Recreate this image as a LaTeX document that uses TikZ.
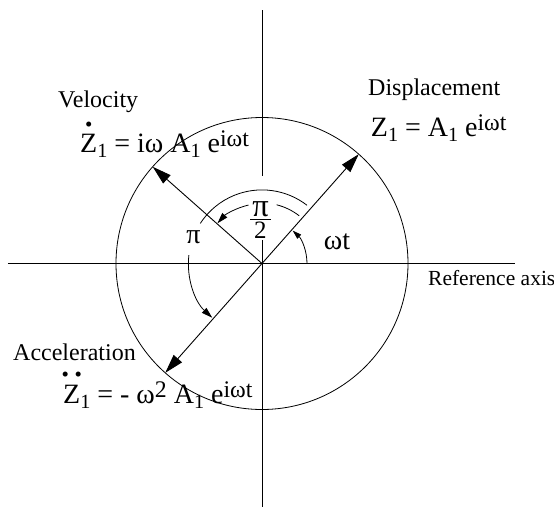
\documentclass[tikz,border=0pt]{standalone}
\usepackage{graphicx}
\usepackage{fontspec}
\setmainfont{Liberation Serif}
\usetikzlibrary{arrows.meta}
\newcommand\lowsub[1]{\raisebox{-0.2em}{\scalebox{0.72}{#1}}}
\newcommand\highsup[1]{\raisebox{0.2em}{\scalebox{0.85}{#1}}}
\newcommand\dotmark{\scalebox{0.75}{\textbullet}}
\newcommand\Zd{\ooalign{Z\cr\hidewidth\raisebox{0.74em}{\dotmark}\hidewidth\cr}}
\newcommand\Zdd{\ooalign{Z\cr\hidewidth\raisebox{0.76em}{\dotmark\kern0.2em\dotmark}\hidewidth\cr}}
\newcommand\pihalf{\vbox{\baselineskip=0pt\lineskip=1.5pt\lineskiplimit=0pt\halign{\hfil##\hfil\cr \scalebox{1.3}{π}\cr\rule{0.8em}{1.3pt}\cr 2\cr}}}
\tikzset{
  axisline/.style={line width=0.8pt},
  vec/.style={line width=0.9pt,-{Triangle[length=19pt,width=11pt]}},
  angarc/.style={line width=0.8pt},
  angarrow/.style={line width=0.8pt,-{Triangle[length=11pt,width=6.5pt]}},
  lbl/.style={inner sep=0pt,anchor=base west,font=\fontsize{24}{28}\selectfont},
  formula/.style={inner sep=0pt,anchor=base west,font=\fontsize{28}{32}\selectfont},
  greek/.style={inner sep=0pt,font=\fontsize{28}{32}\selectfont},
}
\begin{document}
\begin{tikzpicture}[x=1pt,y=1pt]
\useasboundingbox (-262,-248.5) rectangle (292,263.5);
\coordinate (O) at (0,0);
% axes
\coordinate (HL) at (-254,0);
\coordinate (HR) at (253,0);
\coordinate (VT) at (0,253.5);
\coordinate (VTg) at (0,88);
\coordinate (VBg) at (0,23.5);
\coordinate (VB) at (0,-243.5);
\draw[axisline] (HL) -- (HR);
\draw[axisline] (VT) -- (VTg);
\draw[axisline] (VBg) -- (VB);
% circle
\draw[axisline] (O) circle[radius=146pt];
% vectors
\coordinate (D) at (48.5:146pt);
\coordinate (V) at (138.5:146pt);
\coordinate (A) at (228.5:146pt);
\draw[vec] (O) -- (D);
\draw[vec] (O) -- (V);
\draw[vec] (O) -- (A);
% omega t arc
\draw[angarc,-{Triangle[length=9pt,width=5.5pt]}] (0:45pt) arc[start angle=0,end angle=47,radius=45pt];
% pi/2 arc
\draw[angarc] (52:60.5pt) arc[start angle=52,end angle=76,radius=60.5pt];
\draw[angarrow] (103:60pt) arc[start angle=103,end angle=138,radius=60pt];
% pi arc
\draw[angarc] (52.3:73.6pt) arc[start angle=52.3,end angle=147,radius=73.6pt];
\draw[angarrow] (173.5:73.6pt) arc[start angle=173.5,end angle=227.5,radius=73.6pt];
% angle labels
\node[greek] (wt) at (75,22) {ωt};
\node[greek] (pi) at (-68.5,26) {π};
\node[greek,font=\fontsize{25}{28}\selectfont] (half) at (-1.5,43.5) {\pihalf};
% texts
\node[lbl] (vel) at (-204,156.5) {Velocity};
\node[formula] (velf) at (-182,111.5) {\Zd\lowsub{1} = iω A\lowsub{1} e\highsup{iωt}};
\node[lbl] (dis) at (106,168.5) {Displacement};
\node[formula] (disf) at (108.7,127.5) {Z\lowsub{1} = A\lowsub{1} e\highsup{iωt}};
\node[lbl,font=\fontsize{21.5}{25}\selectfont] (ref) at (166,-21.5) {Reference axis};
\node[lbl] (acc) at (-249,-96.5) {Acceleration};
\node[formula] (accf) at (-199,-139.5) {\Zdd\lowsub{1} = - ω\highsup{2} A\lowsub{1} e\highsup{iωt}};
\end{tikzpicture}
\end{document}
